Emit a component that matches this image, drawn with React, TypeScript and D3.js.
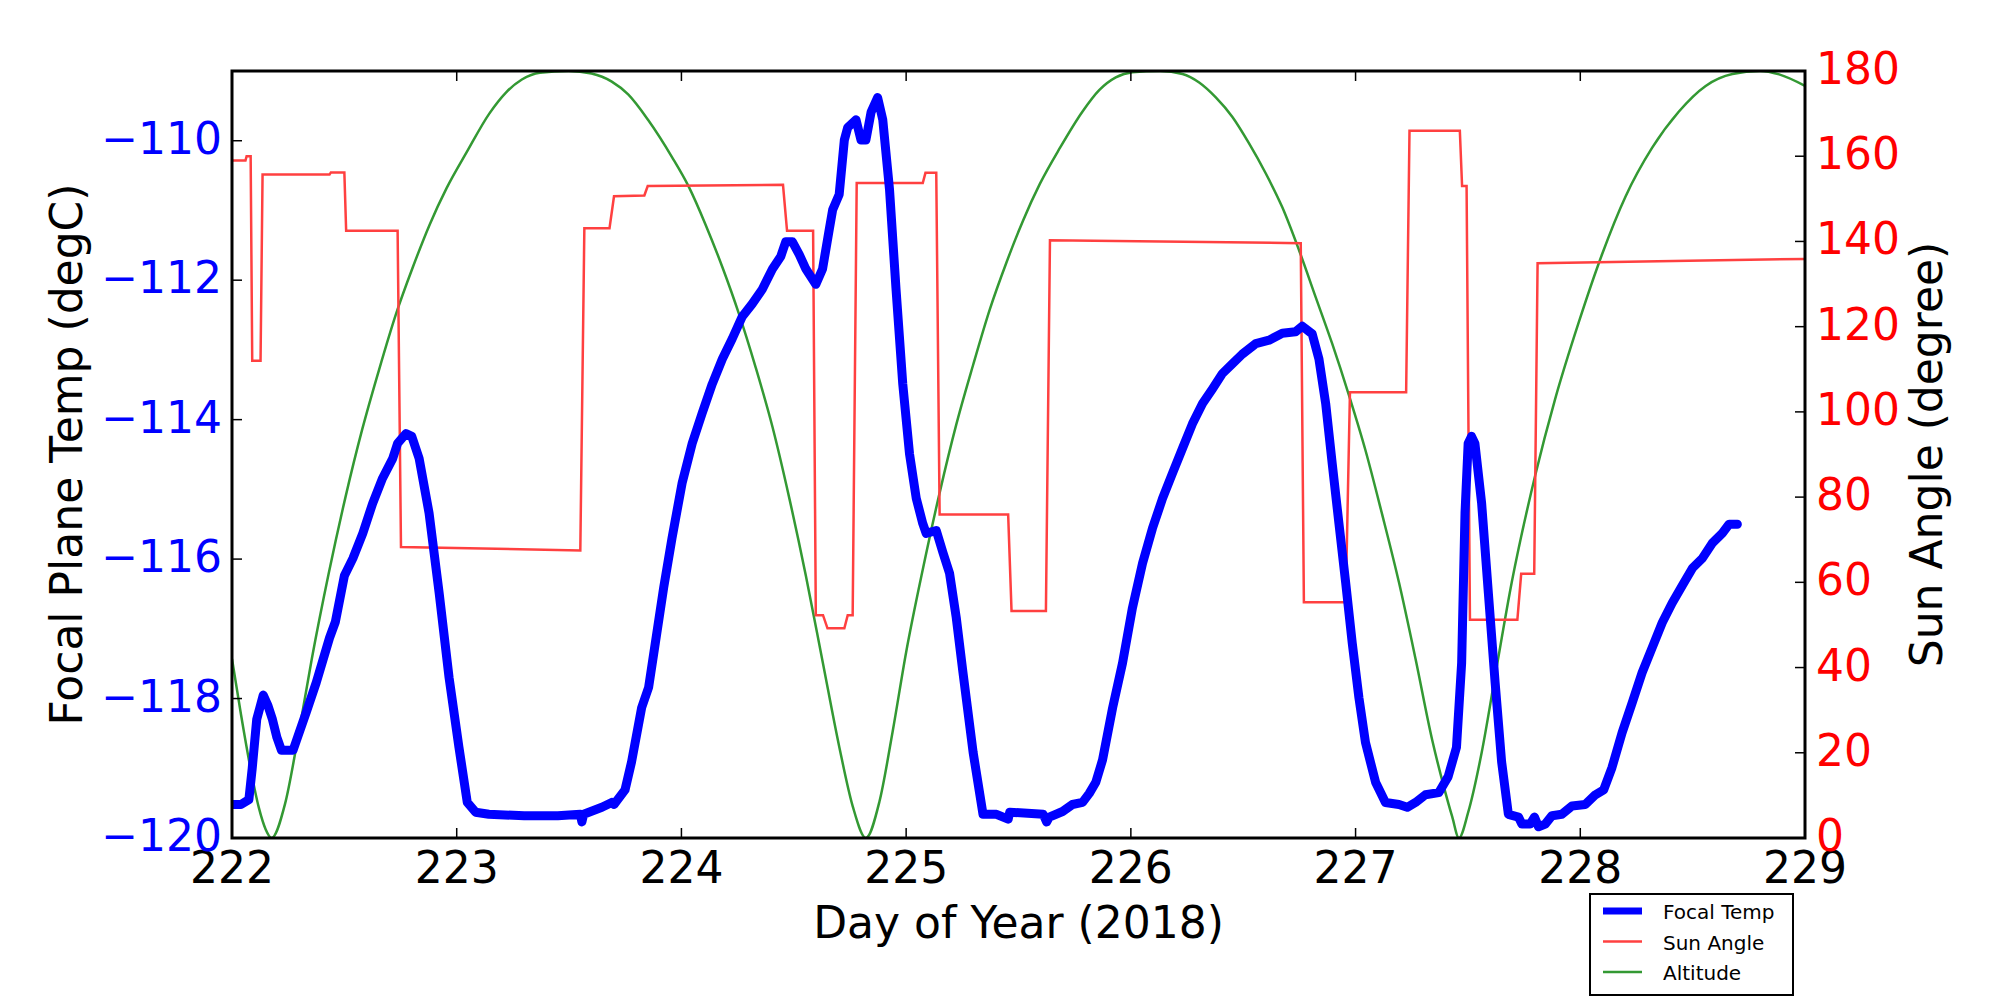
import * as d3 from "d3"

// values (day of year, value)
const focalTemp: [number, number][] = [
    [222.0, -119.52], [222.04, -119.52], [222.075, -119.45], [222.09, -119.0], [222.11, -118.3],
    [222.139, -117.95], [222.16, -118.1], [222.18, -118.3], [222.2, -118.56], [222.22, -118.74],
    [222.272, -118.74], [222.287, -118.6], [222.33, -118.2], [222.375, -117.77], [222.434, -117.13],
    [222.46, -116.9], [222.5, -116.24], [222.538, -115.99], [222.582, -115.63], [222.626, -115.2],
    [222.67, -114.84], [222.715, -114.56], [222.737, -114.34], [222.774, -114.2], [222.8, -114.24],
    [222.833, -114.56], [222.877, -115.34], [222.922, -116.49], [222.966, -117.7], [223.01, -118.7],
    [223.047, -119.49], [223.084, -119.63], [223.143, -119.66], [223.3, -119.68], [223.45, -119.68],
    [223.55, -119.66], [223.557, -119.77], [223.565, -119.66], [223.646, -119.56], [223.69, -119.49],
    [223.7, -119.52], [223.749, -119.31], [223.778, -118.91], [223.823, -118.13], [223.854, -117.84],
    [223.884, -117.2], [223.921, -116.41], [223.958, -115.7], [224.003, -114.91], [224.048, -114.34],
    [224.092, -113.91], [224.137, -113.49], [224.182, -113.13], [224.226, -112.84], [224.271, -112.52],
    [224.315, -112.34], [224.36, -112.13], [224.405, -111.84], [224.442, -111.66], [224.464, -111.45],
    [224.494, -111.45], [224.524, -111.63], [224.554, -111.84], [224.598, -112.06], [224.628, -111.84],
    [224.658, -111.27], [224.673, -110.99], [224.702, -110.77], [224.725, -109.99], [224.74, -109.81],
    [224.777, -109.7], [224.799, -109.99], [224.821, -109.99], [224.844, -109.59], [224.873, -109.38],
    [224.896, -109.7], [224.926, -110.7], [224.955, -112.13], [224.985, -113.49], [225.015, -114.49],
    [225.045, -115.13], [225.074, -115.49], [225.089, -115.63], [225.134, -115.59], [225.164, -115.91],
    [225.193, -116.2], [225.223, -116.84], [225.253, -117.63], [225.298, -118.77], [225.342, -119.66],
    [225.402, -119.66], [225.454, -119.73], [225.461, -119.63], [225.61, -119.66], [225.625, -119.77],
    [225.637, -119.7], [225.696, -119.62], [225.74, -119.52], [225.785, -119.49], [225.815, -119.36],
    [225.844, -119.2], [225.874, -118.88], [225.919, -118.13], [225.963, -117.49], [226.007, -116.7],
    [226.052, -116.06], [226.096, -115.56], [226.141, -115.13], [226.185, -114.77], [226.23, -114.41],
    [226.274, -114.06], [226.319, -113.77], [226.363, -113.56], [226.407, -113.34], [226.452, -113.2],
    [226.496, -113.06], [226.556, -112.91], [226.615, -112.86], [226.674, -112.76], [226.733, -112.74],
    [226.763, -112.66], [226.807, -112.77], [226.837, -113.13], [226.867, -113.77], [226.896, -114.63],
    [226.926, -115.49], [226.956, -116.34], [226.985, -117.2], [227.015, -117.99], [227.044, -118.63],
    [227.089, -119.2], [227.133, -119.49], [227.193, -119.52], [227.23, -119.56], [227.267, -119.49],
    [227.311, -119.38], [227.37, -119.35], [227.412, -119.12], [227.449, -118.7], [227.472, -117.49],
    [227.487, -115.34], [227.501, -114.34], [227.516, -114.24], [227.531, -114.34], [227.561, -115.2],
    [227.591, -116.49], [227.621, -117.77], [227.65, -118.91], [227.68, -119.66], [227.725, -119.7],
    [227.74, -119.8], [227.777, -119.8], [227.796, -119.7], [227.814, -119.84], [227.844, -119.8],
    [227.874, -119.68], [227.918, -119.66], [227.963, -119.54], [228.022, -119.52], [228.067, -119.38],
    [228.104, -119.31], [228.141, -118.99], [228.186, -118.49], [228.231, -118.06], [228.275, -117.63],
    [228.32, -117.27], [228.365, -116.91], [228.409, -116.63], [228.454, -116.38], [228.499, -116.13],
    [228.543, -115.99], [228.588, -115.77], [228.632, -115.63], [228.662, -115.5], [228.699, -115.5],
]

const sunAngle: [number, number][] = [
    [222.0, 159], [222.06, 159], [222.065, 160], [222.083, 160], [222.09, 112], [222.127, 112],
    [222.136, 155.7], [222.434, 155.7], [222.44, 156.2], [222.5, 156.2], [222.508, 142.5],
    [222.737, 142.5], [222.752, 68.3], [223.55, 67.5], [223.568, 143.1], [223.68, 143.1],
    [223.7, 150.6], [223.835, 150.8], [223.85, 153], [224.452, 153.3], [224.47, 142.5],
    [224.586, 142.5], [224.598, 52.3], [224.63, 52.3], [224.65, 49.2], [224.725, 49.2],
    [224.74, 52.3], [224.762, 52.3], [224.78, 153.7], [225.074, 153.7], [225.086, 156.1],
    [225.134, 156.1], [225.149, 75.9], [225.454, 75.9], [225.469, 53.3], [225.622, 53.3],
    [225.64, 140.3], [226.756, 139.6], [226.77, 55.3], [226.956, 55.3], [226.975, 104.6],
    [227.225, 104.6], [227.24, 166], [227.464, 166], [227.474, 153], [227.494, 153],
    [227.509, 51.2], [227.72, 51.2], [227.737, 62], [227.795, 62], [227.81, 134.9], [229.0, 135.9],
]

const altitude: [number, number][] = [
    [222.0, 42], [222.04, 29], [222.08, 17], [222.12, 7], [222.15, 2], [222.176, 0],
    [222.236, 8], [222.295, 24], [222.355, 42], [222.43, 62], [222.505, 80], [222.58, 96],
    [222.655, 110], [222.73, 123], [222.805, 134], [222.88, 144], [222.955, 152.5], [223.045, 161],
    [223.145, 170], [223.22, 175], [223.29, 178], [223.37, 179.6], [223.498, 180],
    [223.6, 179.4], [223.69, 177.5], [223.763, 174.5], [223.852, 168.5], [223.958, 159.8],
    [224.033, 152.8], [224.107, 144], [224.182, 134], [224.256, 123], [224.33, 110.5], [224.405, 96.5],
    [224.479, 80], [224.554, 61.5], [224.628, 41.5], [224.702, 21.5], [224.762, 7.5], [224.821, 0],
    [224.881, 8.5], [224.94, 25], [225.0, 43.6], [225.074, 63], [225.149, 81], [225.223, 97],
    [225.298, 111], [225.372, 124], [225.446, 135], [225.521, 145], [225.595, 153.5],
    [225.685, 162], [225.785, 170.5], [225.859, 175.5], [225.933, 178.5], [226.007, 179.7],
    [226.13, 180], [226.23, 179.3], [226.304, 177.3], [226.378, 173.8], [226.452, 169.2],
    [226.526, 163], [226.6, 156], [226.674, 148], [226.748, 138], [226.822, 127], [226.896, 116],
    [226.97, 104], [227.044, 91], [227.118, 76], [227.193, 60], [227.267, 42], [227.341, 23],
    [227.393, 12], [227.43, 5], [227.46, 0], [227.501, 6], [227.561, 20], [227.621, 38],
    [227.695, 60], [227.799, 85], [227.888, 103], [227.993, 121], [228.097, 137], [228.201, 150.5],
    [228.32, 162], [228.439, 170.5], [228.558, 176.5], [228.677, 179.3], [228.8, 180],
    [228.885, 179.2], [229.0, 176.5],
]

const dayTicks = [222, 223, 224, 225, 226, 227, 228, 229]
const tempTicks = [-120, -118, -116, -114, -112, -110]
const angleTicks = [0, 20, 40, 60, 80, 100, 120, 140, 160, 180]

const legendItems = [
    { label: "Focal Temp", color: "#0000ff", width: 7 },
    { label: "Sun Angle", color: "#ff4040", width: 2.5 },
    { label: "Altitude", color: "#339933", width: 2.5 },
]

const left = 232, right = 1805, top = 71, bottom = 838
const font = "DejaVu Sans, sans-serif"

const App = () => {
    const x = d3.scaleLinear().domain([222, 229]).range([left, right])
    const yTemp = d3.scaleLinear().domain([-120, -109]).range([bottom, top])
    const yAngle = d3.scaleLinear().domain([0, 180]).range([bottom, top])

    const tempLine = d3.line<[number, number]>()
        .x(d => x(d[0]))
        .y(d => yTemp(d[1]))
    const angleLine = d3.line<[number, number]>()
        .x(d => x(d[0]))
        .y(d => yAngle(d[1]))
    const altLine = d3.line<[number, number]>()
        .x(d => x(d[0]))
        .y(d => yAngle(d[1]))
        .curve(d3.curveMonotoneX)

    const midY = (top + bottom) / 2

    return (
        <div style={{ position: "absolute", left: 0, top: 0 }}>
            <svg width={2000} height={1000} style={{ display: "block", background: "#fff" }} fontFamily={font}>
                <defs>
                    <clipPath id="plot">
                        <rect x={left} y={top} width={right - left} height={bottom - top} />
                    </clipPath>
                </defs>

                <g clipPath="url(#plot)">
                    <path d={altLine(altitude) ?? ""} fill="none" stroke="#339933" strokeWidth={2.5} />
                    <path d={angleLine(sunAngle) ?? ""} fill="none" stroke="#ff4040" strokeWidth={2.5} />
                    <path d={tempLine(focalTemp) ?? ""} fill="none" stroke="#0000ff" strokeWidth={9}
                        strokeLinejoin="round" strokeLinecap="round" />
                </g>

                {/* day ticks, top and bottom, pointing inward */}
                {dayTicks.map(t => (
                    <g key={"d" + t}>
                        <line x1={x(t)} x2={x(t)} y1={bottom} y2={bottom - 10} stroke="#000" strokeWidth={1.5} />
                        <line x1={x(t)} x2={x(t)} y1={top} y2={top + 10} stroke="#000" strokeWidth={1.5} />
                        <text x={x(t)} y={bottom + 45} textAnchor="middle" fontSize={44} fill="#000">{t}</text>
                    </g>
                ))}

                {tempTicks.map(t => (
                    <g key={"t" + t}>
                        <line x1={left} x2={left + 10} y1={yTemp(t)} y2={yTemp(t)} stroke="#000" strokeWidth={1.5} />
                        <text x={222} y={yTemp(t) + 13} textAnchor="end" fontSize={44} fill="#0000ff">
                            {"\u2212" + Math.abs(t)}
                        </text>
                    </g>
                ))}

                {angleTicks.map(t => (
                    <g key={"a" + t}>
                        <line x1={right} x2={right - 10} y1={yAngle(t)} y2={yAngle(t)} stroke="#000" strokeWidth={1.5} />
                        <text x={1816} y={yAngle(t) + 13} textAnchor="start" fontSize={44} fill="#ff0000">{t}</text>
                    </g>
                ))}

                <rect x={left} y={top} width={right - left} height={bottom - top} fill="none" stroke="#000" strokeWidth={3} />

                <text x={(left + right) / 2} y={938} textAnchor="middle" fontSize={44} fill="#000">Day of Year (2018)</text>
                <text transform={`translate(82,${midY}) rotate(-90)`} textAnchor="middle" fontSize={44} fill="#000">
                    Focal Plane Temp (degC)
                </text>
                <text transform={`translate(1942,${midY}) rotate(-90)`} textAnchor="middle" fontSize={44} fill="#000">
                    Sun Angle (degree)
                </text>

                {/* legend */}
                <rect x={1590} y={894} width={203} height={101} fill="#fff" stroke="#000" strokeWidth={2} />
                {legendItems.map((item, i) => (
                    <g key={item.label}>
                        <line x1={1603} x2={1642} y1={911 + i * 30.5} y2={911 + i * 30.5}
                            stroke={item.color} strokeWidth={item.width} />
                        <text x={1663} y={919 + i * 30.5} fontSize={20} fill="#000">{item.label}</text>
                    </g>
                ))}
            </svg>
        </div>
    )
}

export default App
